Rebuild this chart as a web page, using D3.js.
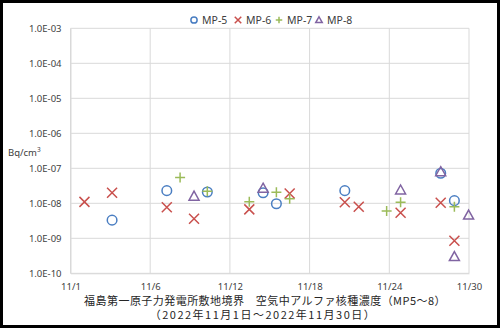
<!DOCTYPE html>
<html><head><meta charset="utf-8">
<script src="https://cdn.jsdelivr.net/npm/d3@7"></script>
<style>
html,body{margin:0;padding:0;background:#fff;}
svg{display:block;}
</style></head>
<body>
<svg id="chart" width="500" height="328"></svg>
<script>
// ---- data ----
const xTickValues = [0, 6, 12, 18, 24, 30];
const xTickLabels = ["11/1", "11/6", "11/12", "11/18", "11/24", "11/30"];
const yTickValues = [1e-10, 1e-9, 1e-8, 1e-7, 1e-6, 1e-5, 1e-4, 1e-3];
const yTickLabels = ["1.0E-10", "1.0E-09", "1.0E-08", "1.0E-07", "1.0E-06", "1.0E-05", "1.0E-04", "1.0E-03"];
const seriesNames = ["MP-5", "MP-6", "MP-7", "MP-8"];

const mp5Days = [3.13, 7.25, 10.3, 14.5, 15.5, 20.65, 27.87, 28.9];
const mp5Values = [3.3e-9, 2.3e-8, 2.1e-8, 2.0e-8, 9.7e-9, 2.3e-8, 7.2e-8, 1.19e-8];

const mp6Days = [1.05, 3.13, 7.25, 9.3, 13.46, 16.5, 20.65, 21.7, 24.85, 27.87, 28.9];
const mp6Values = [1.1e-8, 2.0e-8, 7.7e-9, 3.6e-9, 6.7e-9, 1.9e-8, 1.07e-8, 8.0e-9, 5.4e-9, 1.04e-8, 8.5e-10];

const mp7Days = [8.25, 10.3, 13.46, 15.5, 16.5, 23.8, 24.85, 28.9];
const mp7Values = [5.5e-8, 2.2e-8, 1.11e-8, 2.06e-8, 1.35e-8, 6.0e-9, 1.07e-8, 8.0e-9];

const mp8Days = [9.3, 14.5, 24.85, 27.87, 28.9, 29.97];
const mp8Values = [1.6e-8, 2.7e-8, 2.4e-8, 8.0e-8, 3.0e-10, 4.6e-9];

const titleLine1 = "福島第一原子力発電所敷地境界　空気中アルファ核種濃度（MP5～8）";
const titleLine2 = "（2022年11月1日～2022年11月30日）";
const yUnit = "Bq/cm";

// ---- chart ----
const svg = d3.select("#chart");
const W = 500, H = 328;
const plot = {left: 70.5, right: 469, top: 28.3, bottom: 273.3};
const colors = {"MP-5": "#4A7EC2", "MP-6": "#C9504D", "MP-7": "#9BBB59", "MP-8": "#8064A2"};
const font = "'Noto Sans', 'Open Sans', sans-serif";
const jpFont = "'Noto Sans CJK JP', sans-serif";

svg.append("rect").attr("x", 0).attr("y", 0).attr("width", W).attr("height", H).attr("fill", "#000");
svg.append("rect").attr("x", 3).attr("y", 3).attr("width", W - 6).attr("height", H - 6).attr("fill", "#fff");

const x = d3.scaleLinear().domain([0, 30]).range([plot.left, plot.right]);
const y = d3.scaleLog().domain([1e-10, 1e-3]).range([plot.bottom, plot.top]);

// grid
const grid = svg.append("g");
grid.selectAll("line.h").data(yTickValues).join("line")
  .attr("x1", plot.left).attr("x2", plot.right)
  .attr("y1", d => y(d)).attr("y2", d => y(d))
  .attr("stroke", "#D9D9D9").attr("stroke-width", 1);
grid.selectAll("line.v").data(xTickValues).join("line")
  .attr("y1", plot.top).attr("y2", plot.bottom)
  .attr("x1", d => x(d)).attr("x2", d => x(d))
  .attr("stroke", "#D9D9D9").attr("stroke-width", 1);

// axes
const yAxis = d3.axisLeft(y).tickValues(yTickValues).tickSize(0).tickPadding(9)
  .tickFormat((d, i) => yTickLabels[i]);
const gy = svg.append("g").attr("transform", `translate(${plot.left},0)`).call(yAxis);
gy.select(".domain").attr("stroke", "#D9D9D9");
gy.selectAll("text").attr("font-family", font).attr("font-size", 9.5).attr("fill", "#404040");

const xAxis = d3.axisBottom(x).tickValues(xTickValues).tickSize(0).tickPadding(10)
  .tickFormat((d, i) => xTickLabels[i]);
const gx = svg.append("g").attr("transform", `translate(0,${plot.bottom})`).call(xAxis);
gx.select(".domain").attr("stroke", "#D9D9D9");
gx.selectAll("text").attr("font-family", font).attr("font-size", 9.5).attr("fill", "#404040");

// unit label
const unit = svg.append("text").attr("x", 8).attr("y", 156)
  .attr("font-family", font).attr("font-size", 9.5).attr("fill", "#404040").text(yUnit);
unit.append("tspan").attr("font-size", 6.5).attr("dy", -4).text("3");

// markers
function drawMarker(g, name, cx, cy, s) {
  const c = colors[name];
  if (name === "MP-5") {
    g.append("circle").attr("cx", cx).attr("cy", cy).attr("r", s * 0.48)
      .attr("fill", "none").attr("stroke", c).attr("stroke-width", 1.5);
  } else if (name === "MP-6") {
    const h = s * 0.5;
    g.append("path").attr("d", `M${cx - h},${cy - h}L${cx + h},${cy + h}M${cx - h},${cy + h}L${cx + h},${cy - h}`)
      .attr("stroke", c).attr("stroke-width", 1.5).attr("fill", "none");
  } else if (name === "MP-7") {
    const h = s * 0.5;
    g.append("path").attr("d", `M${cx - h},${cy}L${cx + h},${cy}M${cx},${cy - h}L${cx},${cy + h}`)
      .attr("stroke", c).attr("stroke-width", 1.5).attr("fill", "none");
  } else {
    const h = s * 0.5;
    g.append("path").attr("d", `M${cx},${cy - h}L${cx + h},${cy + h * 0.8}L${cx - h},${cy + h * 0.8}Z`)
      .attr("stroke", c).attr("stroke-width", 1.5).attr("fill", "none");
  }
}

const series = [
  {name: "MP-5", days: mp5Days, values: mp5Values},
  {name: "MP-6", days: mp6Days, values: mp6Values},
  {name: "MP-7", days: mp7Days, values: mp7Values},
  {name: "MP-8", days: mp8Days, values: mp8Values}
];
const gm = svg.append("g");
series.forEach(s => {
  s.days.forEach((d, i) => drawMarker(gm, s.name, x(d), y(s.values[i]), 10));
});

// legend
const legendX = [194, 238, 279, 319];
const lg = svg.append("g");
seriesNames.forEach((n, i) => {
  drawMarker(lg, n, legendX[i], 20, 6.5);
  lg.append("text").attr("x", legendX[i] + 8).attr("y", 24)
    .attr("font-family", font).attr("font-size", 10.5).attr("fill", "#404040").text(n);
});

// title
svg.append("text").attr("x", 265).attr("y", 304.5).attr("text-anchor", "middle")
  .attr("font-family", jpFont).attr("font-size", 11).attr("letter-spacing", 0.45)
  .attr("fill", "#262626").text(titleLine1);
svg.append("text").attr("x", 263).attr("y", 319).attr("text-anchor", "middle")
  .attr("font-family", jpFont).attr("font-size", 11).attr("letter-spacing", 1.5)
  .attr("fill", "#262626").text(titleLine2);
</script>
</body></html>
